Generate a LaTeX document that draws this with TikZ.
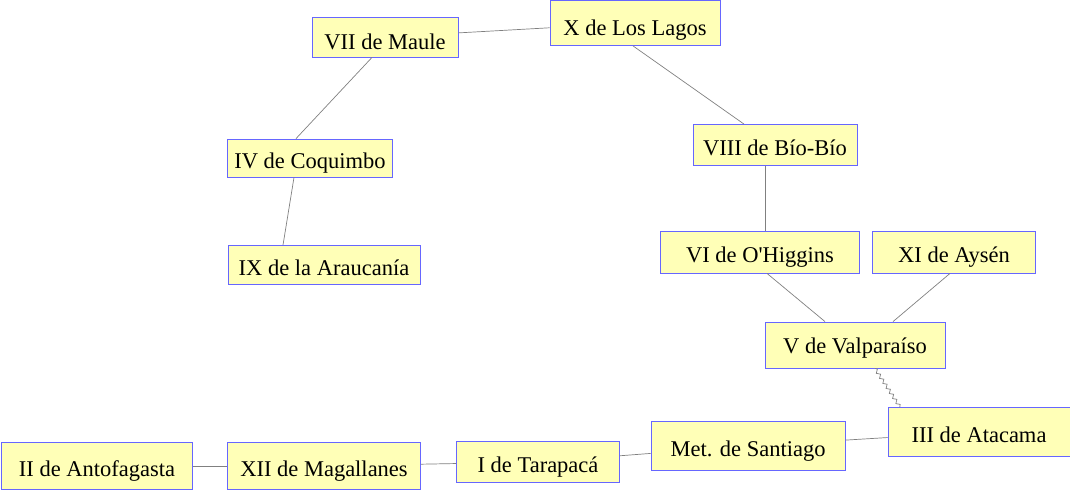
\documentclass[tikz,border=0pt]{standalone}
\usepackage{fontspec}
\setmainfont{Liberation Serif}
\usetikzlibrary{decorations.pathmorphing}
\definecolor{regfill}{RGB}{255,255,183}
\definecolor{regdraw}{RGB}{102,102,255}
\definecolor{linkgray}{RGB}{128,128,128}

\begin{document}
\begin{tikzpicture}[
  x=1pt, y=-1pt,
  font=\fontsize{22.5}{25}\selectfont,
  reg/.style={rectangle, draw=regdraw, fill=regfill, line width=0.8pt, inner sep=0pt,
              text height=20pt, text depth=0pt},
  link/.style={draw=linkgray, line width=0.7pt},
  wavy/.style={link, decorate, decoration={snake, amplitude=1.6pt, segment length=6pt}},
]
\useasboundingbox (0,0) rectangle (1070,490);
% --- upper left arc ---
\node[reg, minimum width=146pt, minimum height=40pt, text height=24pt] (maule) at (385,37) {VII de Maule};
\node[reg, minimum width=170pt, minimum height=45pt, text height=24pt] (lagos) at (635,23) {X de Los Lagos};
\node[reg, minimum width=165pt, minimum height=38pt] (coquimbo) at (310,158) {IV de Coquimbo};
\node[reg, minimum width=192pt, minimum height=39pt] (araucania) at (324,265) {IX de la Araucanía};
% --- right side ---
\node[reg, minimum width=164pt, minimum height=41pt] (biobio) at (775,145) {VIII de Bío-Bío};
\node[reg, minimum width=199pt, minimum height=42pt] (ohiggins) at (760,252) {VI de O\textquotesingle Higgins};
\node[reg, minimum width=163pt, minimum height=42pt] (aysen) at (954,252) {XI de Aysén};
\node[reg, minimum width=180pt, minimum height=46pt, text height=16pt] (valparaiso) at (855,345) {V de Valparaíso};
\node[reg, minimum width=182pt, minimum height=49pt] (atacama) at (979,432) {III de Atacama};
% --- bottom row ---
\node[reg, minimum width=194pt, minimum height=49pt] (santiago) at (748,446) {Met. de Santiago};
\node[reg, minimum width=163pt, minimum height=41pt] (tarapaca) at (538,462) {I de Tarapacá};
\node[reg, minimum width=193pt, minimum height=47pt] (magallanes) at (324,466) {XII de Magallanes};
\node[reg, minimum width=191pt, minimum height=47pt] (antofagasta) at (97,466) {II de Antofagasta};
% link ends on the box borders
\coordinate (mauleS) at ([xshift=-13pt]maule.south);
\coordinate (coquimboN) at ([xshift=-14pt]coquimbo.north);
\coordinate (coquimboS) at ([xshift=-16pt]coquimbo.south);
\coordinate (araucaniaN) at ([xshift=-41pt]araucania.north);
\coordinate (lagosS) at ([xshift=-2pt]lagos.south);
\coordinate (biobioN) at ([xshift=-31pt]biobio.north);
\coordinate (biobioS) at ([xshift=-10pt]biobio.south);
\coordinate (ohigginsS) at ([xshift=7pt]ohiggins.south);
\coordinate (aysenS) at ([xshift=-4pt]aysen.south);
\coordinate (valparaisoNl) at ([xshift=-30pt]valparaiso.north);
\coordinate (valparaisoNr) at ([xshift=38pt]valparaiso.north);
\coordinate (valparaisoS) at ([xshift=20pt]valparaiso.south);
\coordinate (atacamaN) at ([xshift=-79pt]atacama.north);
% links
\draw[link] (maule) -- (lagos);
\draw[link] (mauleS) -- (coquimboN);
\draw[link] (coquimboS) -- (araucaniaN);
\draw[link] (lagosS) -- (biobioN);
\draw[link] (biobioS) -- (biobioS |- ohiggins.north);
\draw[link] (ohigginsS) -- (valparaisoNl);
\draw[link] (aysenS) -- (valparaisoNr);
\draw[wavy] (valparaisoS) -- (atacamaN);
\draw[link] (atacama) -- (santiago);
\draw[link] (santiago) -- (tarapaca);
\draw[link] (tarapaca) -- (magallanes);
\draw[link] (magallanes) -- (antofagasta);
\end{tikzpicture}
\end{document}
